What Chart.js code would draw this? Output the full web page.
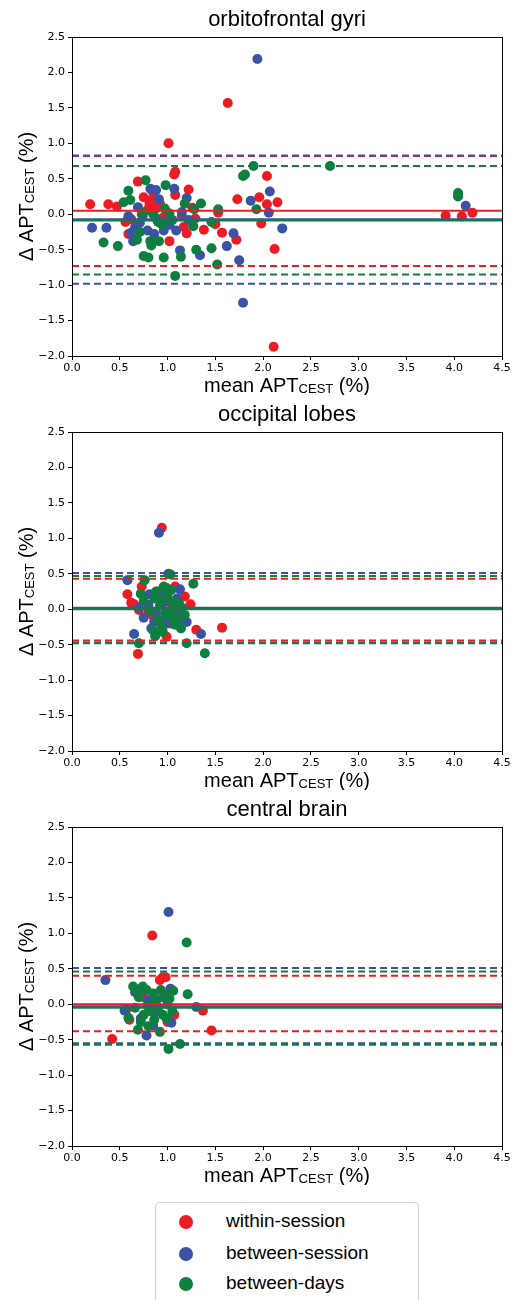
<!DOCTYPE html>
<html>
<head>
<meta charset="utf-8">
<script src="https://cdn.jsdelivr.net/npm/chart.js@4.4.0/dist/chart.umd.min.js"></script>
<style>
  body { margin: 0; background: #fff; width: 515px; height: 1300px; position: relative; overflow: hidden; }
  canvas { position: absolute; left: 0; }
  #legend { position: absolute; left: 155px; top: 1202px; width: 262px; height: 120px; border: 1px solid #d0d0d0; border-radius: 4px; font-family: "Liberation Sans", Arial, sans-serif; font-size: 19px; color: #000; }
  .dot { position: absolute; left: 23px; width: 14px; height: 14px; border-radius: 50%; }
  .lbl { position: absolute; left: 70px; white-space: nowrap; line-height: 22px; }
</style>
</head>
<body>
<canvas id="orb" width="515" height="395" style="top:0px"></canvas>
<canvas id="occ" width="515" height="395" style="top:395px"></canvas>
<canvas id="cen" width="515" height="395" style="top:790px"></canvas>
<div id="legend"></div>

<script>
const seriesNames = ["within-session", "between-session", "between-days"];
const seriesColors = ["#ED1C24", "#3A53A4", "#0E7F3F"];
const xTicks = [0, 0.5, 1, 1.5, 2, 2.5, 3, 3.5, 4, 4.5];
const yTicks = [-2, -1.5, -1, -0.5, 0, 0.5, 1, 1.5, 2, 2.5];

// orbitofrontal gyri  [mean APT, delta APT]
const orbWithin = [[0.19,0.14],[0.38,0.14],[0.47,0.11],[0.56,-0.11],[0.59,-0.28],[0.69,0.46],[0.75,0.24],[0.81,0.15],[0.83,0.20],[0.85,0.31],[0.92,0.15],[0.79,0.06],[1.08,0.60],[1.07,0.56],[1.08,0.27],[1.22,0.35],[1.17,-0.18],[1.20,-0.27],[1.29,-0.06],[1.38,-0.22],[1.50,-0.14],[1.57,-0.26],[1.53,0.02],[1.72,-0.36],[1.73,0.21],[1.02,-0.38],[1.96,0.24],[1.98,-0.13],[2.04,0.54],[2.04,0.14],[2.12,-0.49],[2.15,0.17],[2.11,-1.87],[3.91,-0.02],[4.08,-0.03],[4.19,0.02],[1.01,1.00],[1.63,1.57],[0.73,0.00],[0.95,-0.05],[0.88,0.08],[1.15,-0.03],[0.62,-0.07],[0.99,0.03],[1.26,0.09]];
const orbBetween = [[0.21,-0.19],[0.36,-0.19],[0.59,-0.03],[0.62,-0.26],[0.64,-0.38],[0.69,0.10],[0.71,-0.12],[0.79,-0.23],[0.82,0.36],[0.88,0.34],[0.86,-0.28],[0.91,0.21],[0.96,-0.23],[1.07,0.36],[1.09,-0.23],[1.13,-0.51],[1.15,0.03],[1.20,0.23],[1.22,-0.08],[1.34,-0.58],[1.62,-0.45],[1.69,-0.27],[1.75,-0.65],[1.79,-1.25],[1.87,0.19],[2.06,0.02],[2.07,0.32],[2.20,-0.20],[4.12,0.12],[1.94,2.19],[0.74,-0.02],[0.93,-0.12],[1.02,-0.15],[0.66,-0.18]];
const orbDays = [[0.33,-0.40],[0.48,-0.45],[0.54,0.17],[0.59,0.33],[0.61,0.20],[0.68,-0.36],[0.71,-0.25],[0.74,0.02],[0.75,-0.59],[0.77,0.48],[0.80,-0.61],[0.82,-0.38],[0.83,-0.44],[0.90,-0.11],[0.91,-0.38],[0.96,-0.61],[0.98,0.41],[0.97,0.08],[1.02,0.01],[1.08,-0.87],[1.14,-0.60],[1.18,0.15],[1.27,-0.17],[1.28,0.07],[1.30,-0.50],[1.35,0.15],[1.46,-0.11],[1.46,-0.48],[1.52,-0.71],[1.53,0.07],[1.79,0.54],[1.81,0.56],[1.90,0.68],[1.93,0.07],[2.70,0.68],[4.04,0.30],[4.04,0.25],[0.88,-0.06],[0.94,-0.14],[1.05,-0.08],[0.85,0.00]];
const orbMean = [0.05, -0.07, -0.09];
const orbUpper = [0.82, 0.83, 0.68];
const orbLower = [-0.73, -0.98, -0.85];

// occipital lobes
const occWithin = [[0.94,1.15],[0.58,0.21],[0.73,0.32],[0.65,0.07],[0.70,-0.01],[1.18,0.18],[1.24,0.07],[1.30,-0.29],[1.57,-0.26],[1.08,0.32],[0.99,-0.39],[0.69,-0.63],[0.96,0.17],[0.62,0.09],[0.85,-0.10],[1.05,0.05],[0.90,0.25],[1.12,-0.15],[0.80,-0.05],[1.00,-0.20]];
const occBetween = [[0.91,1.08],[0.58,0.41],[0.65,-0.35],[0.81,0.21],[0.92,0.22],[1.13,0.28],[0.75,-0.12],[1.20,-0.18],[1.35,-0.35],[1.01,0.50],[0.80,0.06],[0.83,-0.27],[1.03,-0.20],[0.88,-0.05],[0.97,0.10],[1.08,0.00],[0.70,0.02],[1.15,-0.08],[0.95,-0.15],[1.10,0.15],[0.86,-0.18]];
const occDays = [[1.03,0.49],[0.76,0.41],[1.27,0.36],[0.72,0.22],[0.96,0.32],[0.75,0.12],[1.39,-0.62],[1.20,-0.48],[0.70,-0.48],[0.87,-0.38],[0.85,-0.30],[1.14,-0.27],[0.94,-0.25],[1.04,0.27],[1.18,-0.08],[0.86,0.15],[0.92,0.05],[0.98,-0.05],[1.05,0.10],[1.10,-0.15],[0.90,-0.15],[1.00,0.20],[0.82,-0.02],[1.12,0.08],[0.95,-0.32],[1.02,-0.10],[0.88,0.25],[1.08,-0.22],[0.93,0.12],[1.06,-0.03],[0.99,0.30],[1.15,0.02]];
const occMean = [0.01, 0.02, 0.00];
const occUpper = [0.43, 0.51, 0.47];
const occLower = [-0.44, -0.47, -0.48];

// central brain
const cenWithin = [[0.84,0.97],[0.42,-0.49],[1.46,-0.37],[1.37,-0.09],[0.95,0.38],[0.98,0.38],[0.92,0.34],[0.57,-0.07],[0.60,-0.22],[1.07,-0.15],[0.88,-0.05],[0.75,0.10],[1.00,-0.25]];
const cenBetween = [[1.01,1.30],[0.35,0.34],[1.04,-0.26],[0.78,-0.44],[0.55,-0.09],[1.30,-0.04],[0.66,0.17],[1.03,0.22],[0.72,-0.20],[0.85,-0.30],[0.95,0.10],[0.90,-0.10],[0.80,0.05]];
const cenDays = [[1.20,0.87],[1.01,-0.63],[1.13,-0.56],[1.21,0.14],[1.06,0.19],[0.59,-0.19],[0.69,-0.36],[0.92,-0.39],[0.80,-0.31],[0.64,0.25],[0.74,0.25],[0.70,0.10],[0.78,0.20],[0.85,0.15],[0.90,-0.05],[0.95,-0.15],[1.00,0.00],[0.66,-0.05],[0.75,-0.15],[0.82,-0.10],[0.88,0.05],[0.97,0.12],[1.05,-0.10],[0.72,-0.25],[0.86,-0.22],[0.68,0.18],[0.93,0.20],[1.02,0.08],[0.79,-0.02],[0.99,-0.20]];
const cenMean = [0.00, -0.03, -0.05];
const cenUpper = [0.40, 0.51, 0.46];
const cenLower = [-0.38, -0.55, -0.57];

function drawSub(ctx, parts, cx, y) {
  const big = '20px "Liberation Sans"';
  const small = '13px "Liberation Sans"';
  ctx.font = big;
  const w0 = ctx.measureText(parts[0]).width;
  const w2 = ctx.measureText(parts[2]).width;
  ctx.font = small;
  const w1 = ctx.measureText(parts[1]).width;
  let x = cx - (w0 + w1 + w2) / 2;
  ctx.textAlign = "left";
  ctx.font = big; ctx.fillText(parts[0], x, y); x += w0;
  ctx.font = small; ctx.fillText(parts[1], x, y + 1); x += w1;
  ctx.font = big; ctx.fillText(parts[2], x, y);
}

const framePlugin = {
  id: "frame",
  afterDraw(chart, args, opts) {
    const ctx = chart.ctx;
    const a = chart.chartArea;
    ctx.save();
    ctx.strokeStyle = "#000";
    ctx.lineWidth = 1;
    ctx.strokeRect(Math.round(a.left) + 0.5, Math.round(a.top) + 0.5, Math.round(a.right - a.left), Math.round(a.bottom - a.top));
    ctx.fillStyle = "#000";
    ctx.textBaseline = "alphabetic";
    ctx.font = '22px "Liberation Sans"';
    ctx.textAlign = "center";
    ctx.fillText(opts.title, (a.left + a.right) / 2, 26);
    drawSub(ctx, ["mean APT", "CEST", " (%)"], (a.left + a.right) / 2, a.bottom + 36);
    ctx.translate(33, (a.top + a.bottom) / 2);
    ctx.rotate(-Math.PI / 2);
    drawSub(ctx, ["\u0394 APT", "CEST", " (%)"], 0, 0);
    ctx.restore();
  },
};

function fmt(v) {
  return v.toFixed(1).replace("-", "\u2212");
}

function makePanel(id, title, points, mean, upper, lower) {
  const datasets = [];
  const xMin = xTicks[0];
  const xMax = xTicks[xTicks.length - 1];
  // limits and means, drawn on top of the points
  for (let i = 0; i < 3; i++) {
    [mean, upper, lower].forEach((lv, k) => {
      datasets.push({
        type: "line",
        label: seriesNames[i],
        data: [{ x: xMin, y: lv[i] }, { x: xMax, y: lv[i] }],
        borderColor: seriesColors[i],
        borderWidth: 2,
        borderDash: k === 0 ? [] : [7, 4],
        pointRadius: 0,
        fill: false,
        order: 3 - i,
      });
    });
  }
  points.forEach((pts, i) => {
    datasets.push({
      type: "scatter",
      label: seriesNames[i],
      data: pts.map((p) => ({ x: p[0], y: p[1] })),
      backgroundColor: seriesColors[i],
      pointBackgroundColor: seriesColors[i],
      pointBorderWidth: 0,
      pointRadius: 5,
      pointHoverRadius: 5,
      order: 10 - i,
    });
  });

  const tickFont = { family: "DejaVu Sans", size: 11 };
  new Chart(document.getElementById(id), {
    type: "scatter",
    data: { datasets: datasets },
    options: {
      responsive: false,
      animation: false,
      devicePixelRatio: 1,
      events: [],
      layout: { padding: { top: 37, right: 13, left: 0, bottom: 0 } },
      plugins: {
        legend: { display: false },
        tooltip: { enabled: false },
        frame: { title: title },
      },
      scales: {
        x: {
          type: "linear",
          min: xMin,
          max: xMax,
          afterBuildTicks: (s) => { s.ticks = xTicks.map((v) => ({ value: v })); },
          afterFit: (s) => { s.height = 39; },
          grid: { display: true, drawOnChartArea: false, tickLength: 4, tickColor: "#000" },
          border: { display: false },
          ticks: { font: tickFont, color: "#000", padding: 2, maxRotation: 0, callback: fmt },
        },
        y: {
          type: "linear",
          min: yTicks[0],
          max: yTicks[yTicks.length - 1],
          afterBuildTicks: (s) => { s.ticks = yTicks.map((v) => ({ value: v })); },
          afterFit: (s) => { s.width = 72; },
          grid: { display: true, drawOnChartArea: false, tickLength: 4, tickColor: "#000" },
          border: { display: false },
          ticks: { font: tickFont, color: "#000", padding: 3, callback: fmt },
        },
      },
    },
    plugins: [framePlugin],
  });
}

makePanel("orb", "orbitofrontal gyri", [orbWithin, orbBetween, orbDays], orbMean, orbUpper, orbLower);
makePanel("occ", "occipital lobes", [occWithin, occBetween, occDays], occMean, occUpper, occLower);
makePanel("cen", "central brain", [cenWithin, cenBetween, cenDays], cenMean, cenUpper, cenLower);

const legend = document.getElementById("legend");
const rowCenters = [19, 51, 81];
seriesNames.forEach((name, i) => {
  const dot = document.createElement("div");
  dot.className = "dot";
  dot.style.top = rowCenters[i] - 7 + "px";
  dot.style.background = seriesColors[i];
  legend.appendChild(dot);
  const lbl = document.createElement("div");
  lbl.className = "lbl";
  lbl.style.top = rowCenters[i] - 12 + "px";
  lbl.textContent = name;
  legend.appendChild(lbl);
});
</script>
</body>
</html>
